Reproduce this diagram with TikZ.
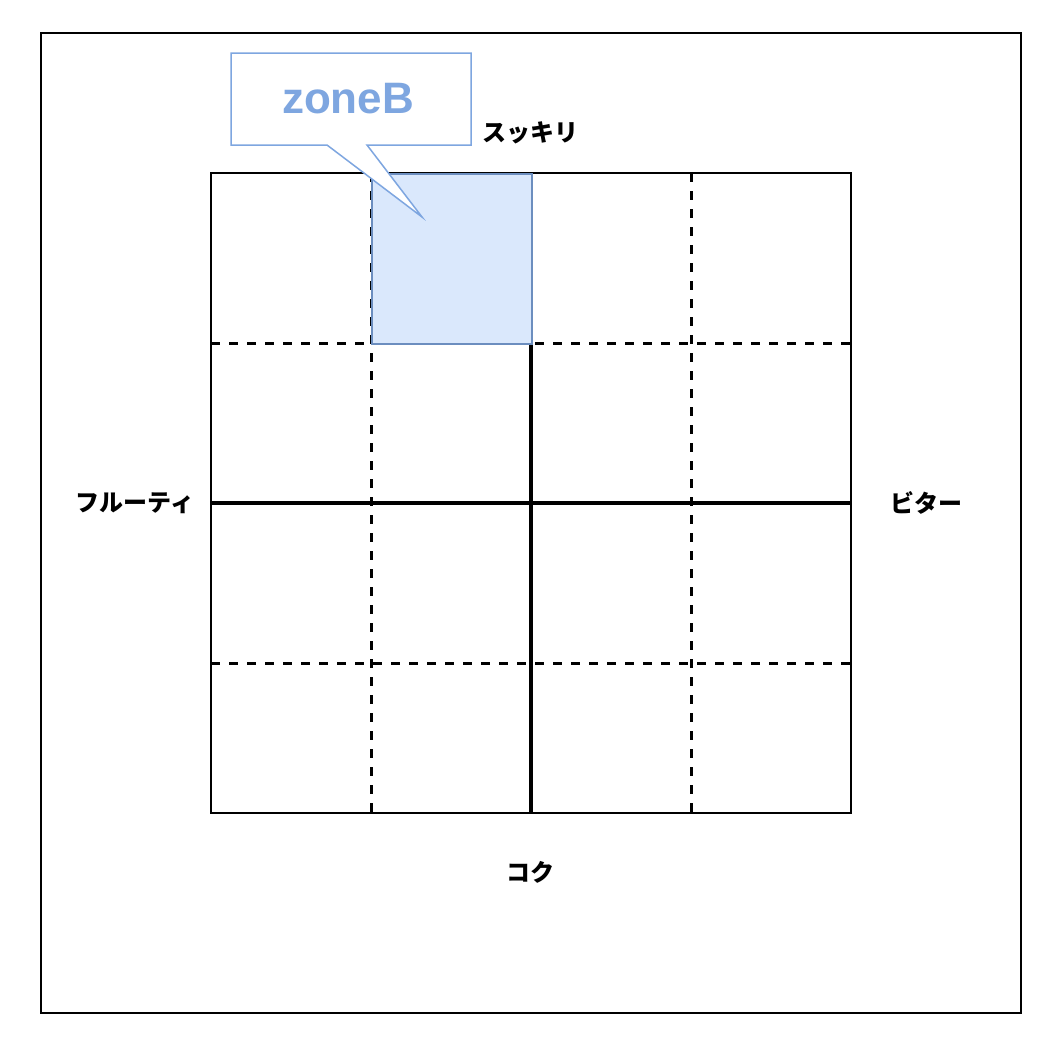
\documentclass[tikz,border=0pt]{standalone}
\usepackage{fontspec}
\setmainfont{Liberation Sans}
\newfontfamily\jp{Noto Sans CJK JP}
\begin{document}
\begin{tikzpicture}[x=1pt,y=-1pt,
  gridsolid/.style={line width=3.5pt},
  griddash/.style={line width=3pt,dash pattern=on 9pt off 9pt},
  lbl/.style={font=\jp\bfseries\fontsize{24}{24}\selectfont,inner sep=0pt}]
\useasboundingbox (0,0) rectangle (1050,1044);
\fill[white] (0,0) rectangle (1050,1044);
\draw[line width=2pt] (41,33) rectangle (1021,1013);
% grid lines
\draw[griddash] (371,173) -- (371,813);
\draw[griddash] (691,173) -- (691,813);
\draw[griddash] (211,343) -- (851,343);
\draw[griddash] (211,663) -- (851,663);
\draw[gridsolid] (531,173) -- (531,813);
\draw[gridsolid] (211,503) -- (851,503);
\draw[line width=2pt] (211,173) rectangle (851,813);
% zone B
\node[fill={rgb,255:red,218;green,232;blue,252},draw={rgb,255:red,108;green,142;blue,191},line width=2pt,minimum width=160pt,minimum height=170pt,inner sep=0pt,anchor=north west] (zoneb) at (371,173) {};
% callout
\coordinate (tip) at (422,217);
\draw[fill=white,draw={rgb,255:red,126;green,166;blue,224},line width=1.5pt,line join=miter]
  (231,53) -- (471,53) -- (471,145) -- (367,145) -- (tip) -- (327,145) -- (231,145) -- cycle;
\node[font=\bfseries\fontsize{44}{44}\selectfont,text={rgb,255:red,126;green,166;blue,224},inner sep=0pt] (callout) at (348,99) {zoneB};
% labels
\node[lbl] (top) at (530,133) {スッキリ};
\node[lbl] (left) at (135,503) {フルーティ};
\node[lbl] (right) at (926,503) {ビター};
\node[lbl] (bottom) at (530,872) {コク};
\end{tikzpicture}
\end{document}
